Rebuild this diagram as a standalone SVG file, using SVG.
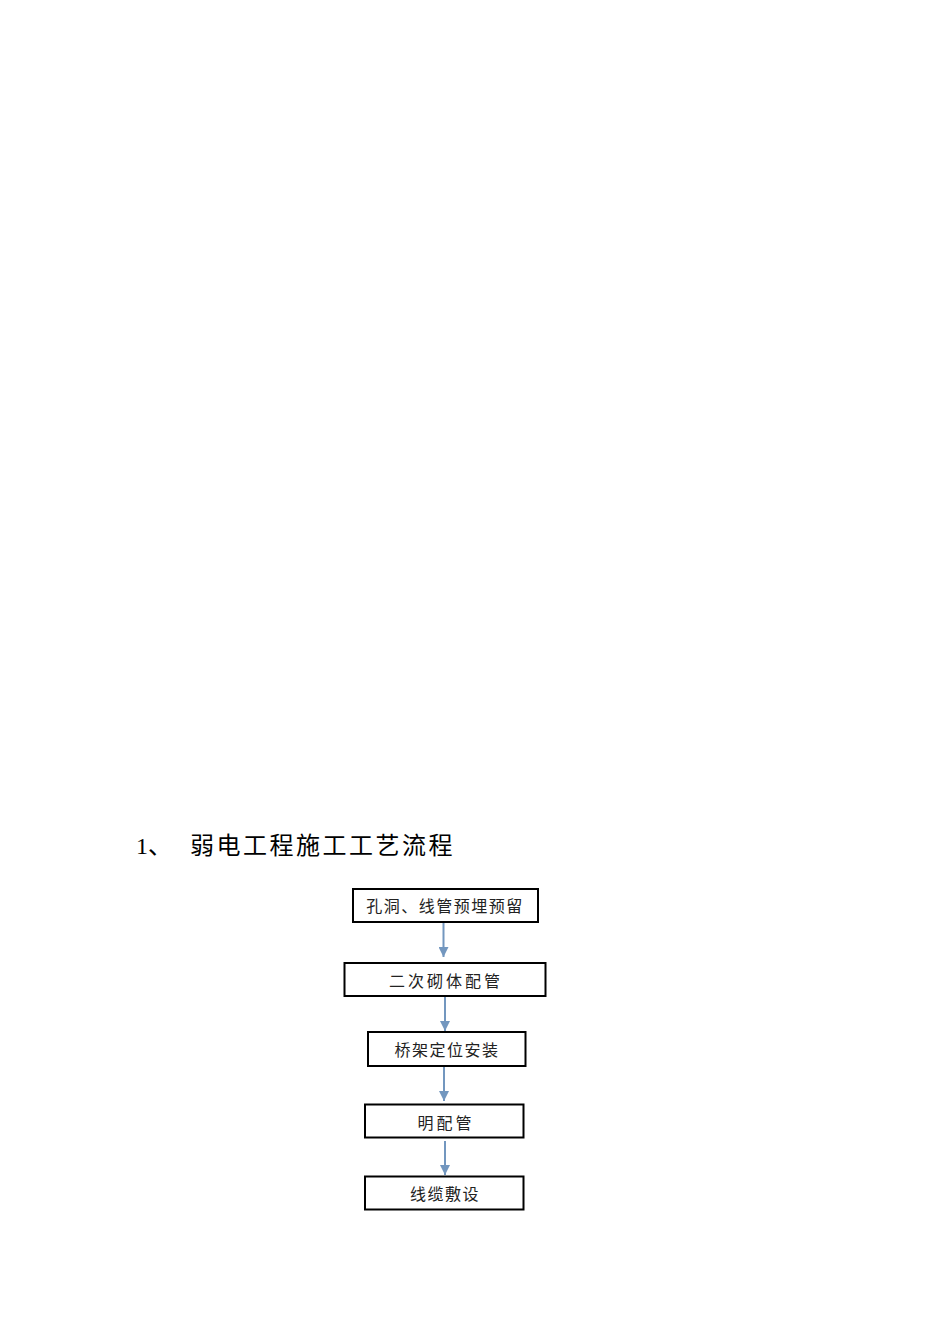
<svg xmlns="http://www.w3.org/2000/svg" width="950" height="1344" viewBox="0 0 950 1344">
<style>
.box{fill:#fff;stroke:#000;stroke-width:2}
.t{font-family:"Noto Sans CJK SC","Noto Sans",sans-serif;font-size:16px;fill:#222;text-anchor:middle;letter-spacing:1.5px}
.w{letter-spacing:3px}
.c{stroke:#7397bf;stroke-width:2;fill:none}
.title{font-family:"Liberation Serif","Noto Sans CJK SC",serif;font-size:24px;fill:#000}
</style>
<defs>
<marker id="ah" viewBox="0 0 10 10" refX="10" refY="5" markerWidth="5" markerHeight="5" orient="auto" markerUnits="strokeWidth">
<path d="M0,0 L10,5 L0,10 z" fill="#7397bf"/>
</marker>
</defs>
<rect width="950" height="1344" fill="#fff"/>
<g id="title">
<text class="title" x="136" y="854">1、</text>
<text class="title" x="190" y="854" style="font-family:'Noto Sans CJK SC',sans-serif;letter-spacing:2.5px">弱电工程施工工艺流程</text>
</g>
<g id="connectors">
<line class="c" x1="443.5" y1="923" x2="443.5" y2="957" marker-end="url(#ah)"/>
<line class="c" x1="445" y1="997" x2="445" y2="1031" marker-end="url(#ah)"/>
<line class="c" x1="444" y1="1066" x2="444" y2="1101" marker-end="url(#ah)"/>
<line class="c" x1="445" y1="1141" x2="445" y2="1175" marker-end="url(#ah)"/>
</g>
<g id="n1"><rect class="box" x="353" y="889" width="185" height="33"/><text class="t" x="445" y="912">孔洞、线管预埋预留</text></g>
<g id="n2"><rect class="box" x="344.5" y="963" width="201" height="33"/><text class="t w" x="446" y="987">二次砌体配管</text></g>
<g id="n3"><rect class="box" x="368" y="1032" width="157.5" height="34"/><text class="t" x="447" y="1056">桥架定位安装</text></g>
<g id="n4"><rect class="box" x="365" y="1104.5" width="158.5" height="33"/><text class="t w" x="446" y="1129">明配管</text></g>
<g id="n5"><rect class="box" x="365" y="1176.5" width="158.5" height="33"/><text class="t" x="445" y="1200">线缆敷设</text></g>
</svg>
